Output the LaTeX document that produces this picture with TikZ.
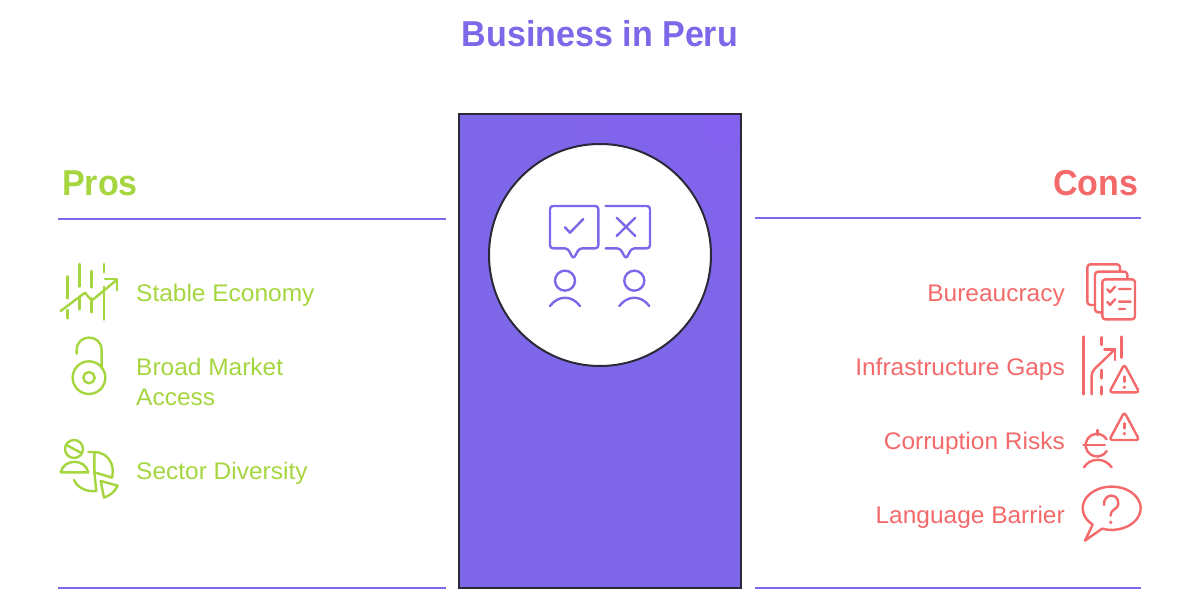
\documentclass[tikz,border=0pt]{standalone}
\usepackage{fontspec}
\setmainfont{Liberation Sans}
\newfontfamily\headfont[FakeStretch=0.945]{Liberation Sans Bold}
\newfontfamily\labelfont[FakeStretch=1.02]{Liberation Sans}
\definecolor{prosgreen}{HTML}{A5D63F}
\definecolor{consred}{HTML}{F46A6A}
\definecolor{mainpurple}{HTML}{7E67E8}
\definecolor{brightpurple}{HTML}{8262EE}
\definecolor{darkline}{HTML}{2B2838}
\tikzset{
  iconline/.style={line width=2.4pt,line cap=round,line join=round},
  greenicon/.style={iconline,draw=prosgreen},
  redicon/.style={iconline,draw=consred},
  purpleicon/.style={iconline,draw=mainpurple},
  rulelineS/.style={draw=mainpurple,line width=2pt},
  headS/.style={inner sep=0pt,font=\headfont\fontsize{36}{40}\selectfont},
  labelS/.style={inner sep=0pt,font=\labelfont\fontsize{24}{30}\selectfont},
  zoomed/.style={shift={#1},x=0.3333pt,y=-0.3333pt}
}
\begin{document}
\begin{tikzpicture}[x=1pt,y=-1pt]
\useasboundingbox (0,0) rectangle (1200,610);
\fill[white] (0,0) rectangle (1200,610);
% title
\node[headS,text=mainpurple,anchor=base] (title) at (600,47) {Business in Peru};
% centre panel
\fill[mainpurple] (459,114) rectangle (741,588);
\begin{scope}
\clip (459,114) rectangle (741,588);
\shade[inner color=brightpurple,outer color=mainpurple] (720,130) circle[radius=240];
\end{scope}
\draw[darkline,line width=2pt] (459,114) rectangle (741,588);
\node[circle,draw=darkline,fill=white,line width=2pt,minimum size=222pt,inner sep=0pt] (hub) at (600,255) {};
% centre icons
\begin{scope}[zoomed={(530,195)}]
\draw[purpleicon,rounded corners=3pt] (113,160) -- (60,160) -- (60,33) -- (205,33) -- (205,160) -- (148,160) -- (130,192) -- cycle;
\draw[purpleicon] (105,97) -- (120,113) -- (160,72);
\draw[purpleicon,rounded corners=3pt] (227,33) -- (360,33) -- (360,160) -- (305,160) -- (288,192) -- (270,160) -- (227,160);
\draw[purpleicon] (260,68) -- (316,123) (316,68) -- (260,123);
\draw[purpleicon] (105,257) circle[radius=30];
\draw[purpleicon] (313,257) circle[radius=30];
\draw[purpleicon] (60,333) .. controls (85,300) and (125,300) .. (150,333);
\draw[purpleicon] (268,333) .. controls (293,300) and (333,300) .. (358,333);
\end{scope}
% rules
\draw[rulelineS] (58,218.5) -- (446,218.5);
\draw[rulelineS] (755,217.5) -- (1141,217.5);
\draw[rulelineS] (58,587.5) -- (446,587.5);
\draw[rulelineS] (755,587.5) -- (1141,587.5);
% headings
\node[headS,text=prosgreen,anchor=base west] (pros) at (62,195) {Pros};
\node[headS,text=consred,anchor=base east] (cons) at (1138.5,195) {Cons};
% pros labels
\node[labelS,text=prosgreen,anchor=base west] (stable) at (136,301) {Stable Economy};
\node[labelS,text=prosgreen,anchor=base west] (broad) at (136,375) {Broad Market};
\node[labelS,text=prosgreen,anchor=base west] (access) at (136,405) {Access};
\node[labelS,text=prosgreen,anchor=base west] (sector) at (136,479) {Sector Diversity};
% cons labels
\node[labelS,text=consred,anchor=base east] (bureau) at (1065,301) {Bureaucracy};
\node[labelS,text=consred,anchor=base east] (infra) at (1065,375) {Infrastructure Gaps};
\node[labelS,text=consred,anchor=base east] (corrupt) at (1065,449) {Corruption Risks};
\node[labelS,text=consred,anchor=base east] (lang) at (1065,523) {Language Barrier};
% pros icons
\begin{scope}[zoomed={(50,255)}]
\draw[greenicon] (52,64) -- (52,130) (52,165) -- (52,190) (88,27) -- (88,95) (88,125) -- (88,163) (125,48) -- (125,97) (125,130) -- (125,172) (162,27) -- (162,52) (162,95) -- (162,194);
\draw[greenicon] (32,168) -- (105,113) -- (125,137) -- (200,75);
\draw[greenicon] (165,72) -- (201,72) -- (201,106);
% lock
\draw[greenicon] (117,368) circle[radius=49];
\draw[greenicon] (117,368) circle[radius=17];
\draw[greenicon] (80,296) -- (80,286) .. controls (80,235) and (155,235) .. (155,286) -- (155,340);
% sector
\draw[greenicon] (72,582) circle[radius=27];
\draw[greenicon] (49,570) -- (96,595);
\draw[greenicon] (32,652) .. controls (42,610) and (105,610) .. (115,652) -- cycle;
\draw[greenicon] (115,591) -- (133,591) -- (133,652) -- (186,668) .. controls (196,630) and (175,592) .. (133,591);
\draw[greenicon] (72,675) .. controls (82,698) and (110,712) .. (139,708) -- (133,652);
\draw[greenicon] (152,678) -- (203,692) .. controls (195,710) and (180,722) .. (162,728) -- cycle;
\end{scope}
% cons icons 1-2
\begin{scope}[zoomed={(1070,255)}]
\draw[redicon,rounded corners=3pt] (75,150) -- (52,150) -- (52,28) -- (150,28) -- (150,50);
\draw[redicon,rounded corners=3pt] (97,172) -- (75,172) -- (75,50) -- (172,50) -- (172,73);
\draw[redicon,rounded corners=3pt] (97,73) rectangle (195,193);
\draw[redicon] (112,103) -- (120,112) -- (135,95) (147,102) -- (182,102);
\draw[redicon] (112,141) -- (120,150) -- (135,133) (147,140) -- (182,140) (147,162) -- (165,162);
\draw[redicon] (40,245) -- (40,418) (155,245) -- (155,308);
\draw[redicon] (95,247) -- (95,270) (95,345) -- (95,370) (95,395) -- (95,418);
\draw[redicon,rounded corners=4pt] (65,418) -- (65,350) -- (135,283);
\draw[redicon] (103,283) -- (135,283) -- (135,315);
\draw[redicon,rounded corners=3pt] (163,328) -- (208,412) -- (118,412) -- cycle;
\draw[redicon] (163,365) -- (163,380);
\fill[consred] (163,397) circle[radius=5.5];
\end{scope}
% cons icons 3-4
\begin{scope}[zoomed={(1070,400)}]
\draw[redicon,rounded corners=3pt] (163,36) -- (208,120) -- (118,120) -- cycle;
\draw[redicon] (163,70) -- (163,85);
\fill[consred] (163,101) circle[radius=5.5];
\draw[redicon] (110,118) arc[start angle=-31,end angle=-329,radius=34];
\draw[redicon] (40,135) -- (105,135) (83,90) -- (83,105);
\draw[redicon] (42,202) .. controls (60,172) and (105,172) .. (125,202);
\draw[redicon] (96,386) arc[start angle=109.5,end angle=-229,x radius=87,y radius=65] -- (45,422) -- cycle;
\draw[redicon] (102,315) .. controls (100,278) and (147,278) .. (145,312) .. controls (144,330) and (122,325) .. (122,347);
\fill[consred] (122,367) circle[radius=5.5];
\end{scope}
\end{tikzpicture}
\end{document}
